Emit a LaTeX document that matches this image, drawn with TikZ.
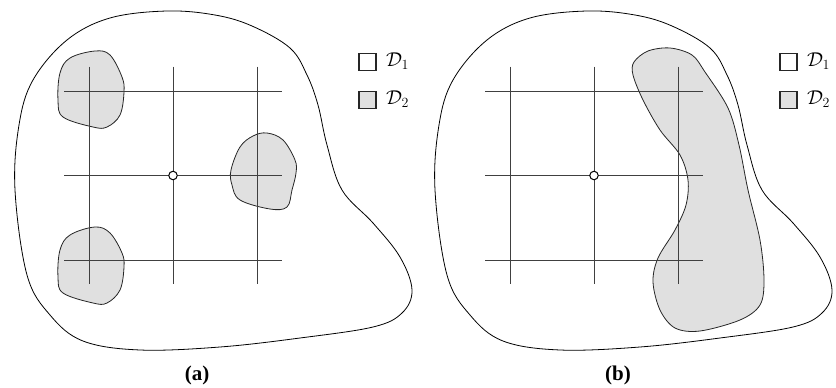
\documentclass[tikz,border=0pt]{standalone}
\usepackage{fix-cm}
\usepackage{amsmath}
\usepackage{fontspec}
\setmainfont{Liberation Serif}
\tikzset{
  outer/.style={draw=black, line width=0.8pt},
  blob/.style={draw=black!85, line width=0.8pt, fill=black!12},
  gridline/.style={draw=black!75, line width=0.95pt},
  origin/.style={circle, draw=black, line width=1pt, fill=white, minimum size=8.5pt, inner sep=0pt},
  legbox/.style={draw=black!85, line width=1.1pt, minimum size=17pt, inner sep=0pt},
  legtext/.style={anchor=west, inner sep=0pt},
  caption/.style={inner sep=0pt}
}
\newcommand{\legfont}{\fontsize{20pt}{24pt}\selectfont}
\newcommand{\capfont}{\fontsize{21pt}{25pt}\selectfont\bfseries}
\begin{document}
\begin{tikzpicture}[x=1pt,y=-1pt]
\useasboundingbox (0,0) rectangle (836,388);
% ---------- panel (a) ----------
\draw[outer] plot[smooth cycle, tension=0.6] coordinates {
 (15,190) (19,125) (33,80) (67,40) (110,18) (167,11) (215,15) (252,26) (290,48) (307,75)
 (318,105) (327,145) (342,190) (373,223) (400,257) (412,290) (402,313) (373,327)
 (300,338) (220,347) (140,350) (83,341) (50,315) (27,275)};
\draw[blob] plot[smooth cycle, tension=0.6] coordinates {
 (95,51) (110,55) (122,77) (124,92) (120,115) (107,127) (93,127) (63,117) (58,100) (60,73) (70,58)};
\draw[blob] plot[smooth cycle, tension=0.6] coordinates {
 (95,227) (110,233) (122,253) (124,267) (120,290) (107,303) (93,303) (63,293) (58,277) (60,250) (70,235)};
\draw[blob] plot[smooth cycle, tension=0.6] coordinates {
 (267,133) (283,140) (295,160) (296,173) (292,190) (287,207) (270,209) (240,200) (232,185) (231,170) (240,147) (253,136)};
\coordinate (aV1t) at (89,66.7); \coordinate (aV1b) at (89,284);
\coordinate (aV2t) at (173,66.7); \coordinate (aV2b) at (173,284);
\coordinate (aV3t) at (257,66.7); \coordinate (aV3b) at (257,284);
\coordinate (aH1l) at (64,91); \coordinate (aH1r) at (282,91);
\coordinate (aH2l) at (64,175.5); \coordinate (aH2r) at (282,175.5);
\coordinate (aH3l) at (64,260); \coordinate (aH3r) at (282,260);
\draw[gridline] (aV1t) -- (aV1b);
\draw[gridline] (aV2t) -- (aV2b);
\draw[gridline] (aV3t) -- (aV3b);
\draw[gridline] (aH1l) -- (aH1r);
\draw[gridline] (aH2l) -- (aH2r);
\draw[gridline] (aH3l) -- (aH3r);
\node[origin] (aO) at (173,175.5) {};
\node[legbox] (aL1) at (367.5,61.7) {};
\node[legbox, fill=black!12] (aL2) at (367.5,99.7) {};
\node[legtext] (aT1) at (386,61) {\legfont$\mathcal{D}_1$};
\node[legtext] (aT2) at (386,99) {\legfont$\mathcal{D}_2$};
\node[caption] (aCap) at (197,375) {\capfont(a)};
% ---------- panel (b) ----------
\begin{scope}[xshift=420pt]
\draw[outer] plot[smooth cycle, tension=0.6] coordinates {
 (15,190) (19,125) (33,80) (67,40) (110,18) (167,11) (215,15) (252,26) (290,48) (307,75)
 (318,105) (327,145) (342,190) (373,223) (400,257) (412,290) (402,313) (373,327)
 (300,338) (220,347) (140,350) (83,341) (50,315) (27,275)};
\end{scope}
\draw[blob] plot[smooth cycle, tension=0.55] coordinates {
 (634,62) (648,51) (670,48) (692,55) (705,72) (728,108) (739,145) (748,190) (760,240)
 (764,280) (760,305) (740,320) (700,331) (675,328) (660,310) (653,282) (658,258)
 (675,230) (686,205) (688,180) (680,155) (660,130) (643,100) (633,75)};
\coordinate (bV1t) at (510,66.7); \coordinate (bV1b) at (510,284);
\coordinate (bV2t) at (594,66.7); \coordinate (bV2b) at (594,284);
\coordinate (bV3t) at (678,66.7); \coordinate (bV3b) at (678,284);
\coordinate (bH1l) at (485,91); \coordinate (bH1r) at (703,91);
\coordinate (bH2l) at (485,175.5); \coordinate (bH2r) at (703,175.5);
\coordinate (bH3l) at (485,260); \coordinate (bH3r) at (703,260);
\draw[gridline] (bV1t) -- (bV1b);
\draw[gridline] (bV2t) -- (bV2b);
\draw[gridline] (bV3t) -- (bV3b);
\draw[gridline] (bH1l) -- (bH1r);
\draw[gridline] (bH2l) -- (bH2r);
\draw[gridline] (bH3l) -- (bH3r);
\node[origin] (bO) at (594,175.5) {};
\node[legbox] (bL1) at (788.5,61.7) {};
\node[legbox, fill=black!12] (bL2) at (788.5,99.7) {};
\node[legtext] (bT1) at (807,61) {\legfont$\mathcal{D}_1$};
\node[legtext] (bT2) at (807,99) {\legfont$\mathcal{D}_2$};
\node[caption] (bCap) at (618,375) {\capfont(b)};
\end{tikzpicture}
\end{document}
